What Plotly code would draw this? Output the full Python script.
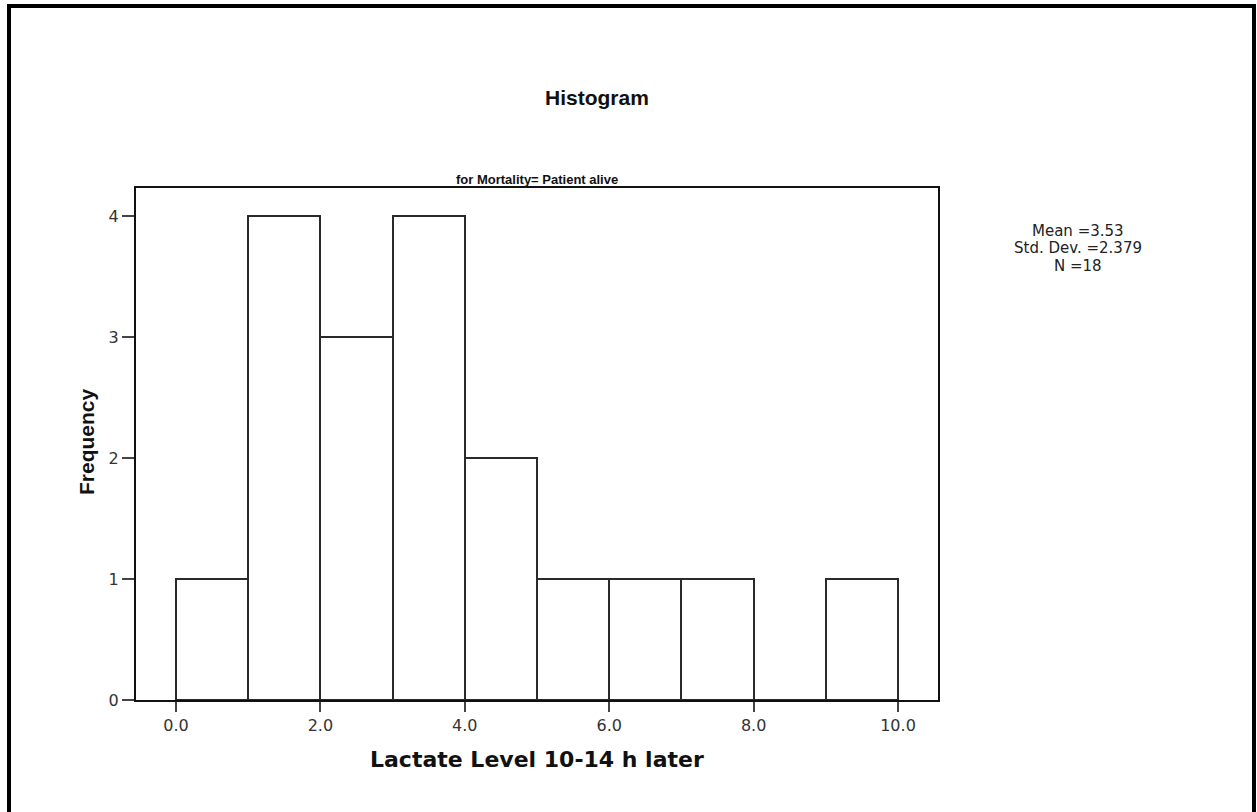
import plotly.graph_objects as go

bin_left = [0, 1, 2, 3, 4, 5, 6, 7, 8, 9]
counts = [1, 4, 3, 4, 2, 1, 1, 1, 0, 1]
bin_width = 1.0
x_ticks = [0, 2, 4, 6, 8, 10]
x_tick_labels = ["0.0", "2.0", "4.0", "6.0", "8.0", "10.0"]
y_ticks = [0, 1, 2, 3, 4]
stats_lines = ["Mean =3.53", "Std. Dev. =2.379", "N =18"]

W, H = 1257, 812
L, R, T, B = 136, 938, 188, 700

def px(x):
    return (x - L) / (R - L)

def py(y):
    return (B - y) / (B - T)

centers = [b + bin_width / 2 for b in bin_left]

fig = go.Figure()
fig.add_trace(go.Bar(
    x=centers, y=counts, width=[bin_width] * len(centers),
    marker=dict(color="white", line=dict(color="#2a2a2a", width=2)),
    showlegend=False, hoverinfo="x+y",
))

ARIAL = "Arial, Liberation Sans, sans-serif"
WIDE = "DejaVu Sans, Verdana, sans-serif"

fig.update_layout(
    width=W, height=H,
    margin=dict(l=L, r=W - R, t=T, b=H - B),
    paper_bgcolor="white", plot_bgcolor="white",
    bargap=0,
    font=dict(family=ARIAL, color="#111111"),
    xaxis=dict(
        range=[-0.554, 10.554], tickvals=x_ticks, ticktext=x_tick_labels,
        showgrid=False, zeroline=False, showline=True, linecolor="#111111",
        linewidth=2, mirror=True, ticks="outside", ticklen=10, tickwidth=2,
        tickcolor="#444444", tickfont=dict(size=16, color="#333333", family=WIDE),
    ),
    yaxis=dict(
        range=[0, 4.231], tickvals=y_ticks,
        showgrid=False, zeroline=False, showline=True, linecolor="#111111",
        linewidth=2, mirror=True, ticks="outside", ticklen=12, tickwidth=2,
        tickcolor="#444444", tickfont=dict(size=16, color="#333333", family=WIDE),
    ),
)

# titles
fig.add_annotation(x=px(597), y=py(97), xref="paper", yref="paper",
                   xanchor="center", yanchor="middle",
                   text="<b>Histogram</b>", showarrow=False,
                   font=dict(size=21, color="#111111", family=ARIAL))
fig.add_annotation(x=0.5, y=py(179), xref="paper", yref="paper",
                   xanchor="center", yanchor="middle",
                   text="<b>for Mortality= Patient alive</b>", showarrow=False,
                   font=dict(size=13, color="#111111", family=ARIAL))
# axis titles
fig.add_annotation(x=0.5, y=py(759), xref="paper", yref="paper",
                   xanchor="center", yanchor="middle",
                   text="<b>Lactate Level 10-14 h later</b>", showarrow=False,
                   font=dict(size=22, color="#111111", family=WIDE))
fig.add_annotation(x=px(86), y=py(442), xref="paper", yref="paper",
                   xanchor="center", yanchor="middle", textangle=-90,
                   text="<b>Frequency</b>", showarrow=False,
                   font=dict(size=21, color="#111111", family=ARIAL))
# stats box
for i, line in enumerate(stats_lines):
    fig.add_annotation(x=px(1078), y=py(230.5 + 17.5 * i), xref="paper", yref="paper",
                       xanchor="center", yanchor="middle", borderpad=0,
                       text=line, showarrow=False,
                       font=dict(size=15, color="#222222", family=WIDE))

border = dict(color="black", width=4)
fig.add_shape(type="line", xref="paper", yref="paper", x0=px(9), x1=px(9), y0=py(4), y1=py(815), line=border)
fig.add_shape(type="line", xref="paper", yref="paper", x0=px(7), x1=px(1256), y0=py(6), y1=py(6), line=border)
fig.add_shape(type="line", xref="paper", yref="paper", x0=px(1254), x1=px(1254), y0=py(4), y1=py(815), line=border)

fig.write_html("out.html")
